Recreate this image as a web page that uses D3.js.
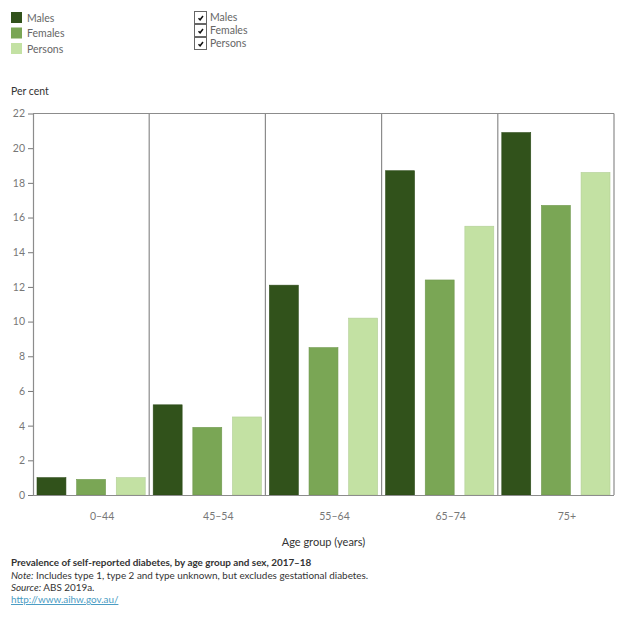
<!DOCTYPE html>
<html>
<head>
<meta charset="utf-8">
<script src="https://cdn.jsdelivr.net/npm/d3@7"></script>
<style>
  html, body { margin: 0; padding: 0; background: #fff; }
  svg { display: block; font-family: Lato, "Open Sans", sans-serif; }
</style>
</head>
<body>
<svg id="chart" width="624" height="624"></svg>
<script>
const ageGroups = ["0–44", "45–54", "55–64", "65–74", "75+"];
const seriesNames = ["Males", "Females", "Persons"];
const males   = [1.0, 5.2, 12.1, 18.7, 20.9];
const females = [0.9, 3.9, 8.5, 12.4, 16.7];
const persons = [1.0, 4.5, 10.2, 15.5, 18.6];
const seriesColors = ["#31521b", "#7aa655", "#c3e1a3"];
const yTicks = [0, 2, 4, 6, 8, 10, 12, 14, 16, 18, 20, 22];
const titleText = "Prevalence of self-reported diabetes, by age group and sex, 2017–18";
const noteText = "Includes type 1, type 2 and type unknown, but excludes gestational diabetes.";
const sourceText = "ABS 2019a.";
const urlText = "http://www.aihw.gov.au/";

const seriesValues = [males, females, persons];
const data = ageGroups.map((g, i) => ({
  group: g,
  values: seriesNames.map((s, j) => ({ series: s, value: seriesValues[j][i] }))
}));

const svg = d3.select("#chart");
const margin = { left: 33, top: 113.5, right: 614, bottom: 495 };

const x0 = d3.scaleBand().domain(ageGroups).range([margin.left, margin.right]).padding(0);
const x1 = d3.scaleBand().domain(seriesNames).range([4, x0.bandwidth() - 4]).paddingInner(0.27);
const y = d3.scaleLinear().domain([0, 22]).range([margin.bottom, margin.top]);
const color = d3.scaleOrdinal().domain(seriesNames).range(seriesColors);

// Bars
const groups = svg.append("g").selectAll("g").data(data).join("g")
  .attr("transform", d => `translate(${x0(d.group)},0)`);
groups.selectAll("rect").data(d => d.values).join("rect")
  .attr("x", d => x1(d.series))
  .attr("y", d => y(d.value))
  .attr("width", x1.bandwidth())
  .attr("height", d => y(0) - y(d.value))
  .attr("fill", d => color(d.series))
  .attr("stroke", d => d3.color(color(d.series)).darker(0.25))
  .attr("stroke-width", 0.6);

// Panel frame and separators
const frame = svg.append("g").attr("stroke", "#8c8c8c").attr("stroke-width", 1.2).attr("fill", "none");
frame.append("line").attr("x1", margin.left).attr("x2", margin.right).attr("y1", margin.top).attr("y2", margin.top);
frame.append("line").attr("x1", margin.right).attr("x2", margin.right).attr("y1", margin.top).attr("y2", margin.bottom);
frame.selectAll("line.sep").data(ageGroups.slice(1)).join("line").attr("class", "sep")
  .attr("x1", d => x0(d)).attr("x2", d => x0(d))
  .attr("y1", margin.top).attr("y2", margin.bottom);
frame.append("line").attr("x1", margin.left).attr("x2", margin.right).attr("y1", margin.bottom + 0.5).attr("y2", margin.bottom + 0.5);

// Y axis
const yAxis = svg.append("g").attr("transform", `translate(${margin.left},0)`)
  .call(d3.axisLeft(y).tickValues(yTicks).tickSize(5).tickPadding(3).tickSizeOuter(0));
yAxis.select(".domain").attr("stroke", "#8c8c8c").attr("stroke-width", 1.2);
yAxis.selectAll(".tick line").attr("stroke", "#777");
yAxis.selectAll(".tick text").attr("fill", "#777").attr("font-size", 10.5)
  .attr("font-family", "Lato, sans-serif");

// X axis labels
const xAxis = svg.append("g").attr("transform", `translate(0,${margin.bottom})`)
  .call(d3.axisBottom(x0).tickSize(0).tickPadding(18));
xAxis.select(".domain").remove();
xAxis.selectAll(".tick text").attr("fill", "#777").attr("font-size", 10.5)
  .attr("dx", 11).attr("font-family", "Lato, sans-serif");

// Axis titles
svg.append("text").attr("x", (margin.left + margin.right) / 2).attr("y", 546)
  .attr("text-anchor", "middle").attr("font-size", 11).attr("fill", "#333").text("Age group (years)");
svg.append("text").attr("x", 11).attr("y", 95)
  .attr("font-size", 10.5).attr("fill", "#333").text("Per cent");

// Colour legend
const legend = svg.append("g").attr("transform", "translate(11,12)");
const li = legend.selectAll("g").data(seriesNames).join("g")
  .attr("transform", (d, i) => `translate(0,${i * 15.5})`);
li.append("rect").attr("width", 11).attr("height", 11).attr("fill", d => color(d));
li.append("text").attr("x", 16).attr("y", 9.5).attr("font-size", 10.5).attr("fill", "#666").text(d => d);

// Checkbox legend
const cb = svg.append("g").attr("transform", "translate(194.5,11.5)");
const ci = cb.selectAll("g").data(seriesNames).join("g")
  .attr("transform", (d, i) => `translate(0,${i * 13})`);
ci.append("rect").attr("width", 12).attr("height", 12).attr("fill", "#fff")
  .attr("stroke", "#666").attr("stroke-width", 1);
ci.append("path").attr("d", "M4,6.8 L5.6,8.3 L8.5,4.5").attr("fill", "none")
  .attr("stroke", "#111").attr("stroke-width", 1.5);
ci.append("text").attr("x", 15.5).attr("y", 9.5).attr("font-size", 10.5).attr("fill", "#666").text(d => d);

// Footnotes
const foot = svg.append("g").attr("font-size", 9.9).attr("fill", "#333");
foot.append("text").attr("x", 11).attr("y", 566).attr("font-weight", "bold").text(titleText);
const note = foot.append("text").attr("x", 11).attr("y", 579);
note.append("tspan").attr("font-style", "italic").text("Note:");
note.append("tspan").text(" " + noteText);
const src = foot.append("text").attr("x", 11).attr("y", 591);
src.append("tspan").attr("font-style", "italic").text("Source:");
src.append("tspan").text(" " + sourceText);
foot.append("text").attr("x", 11).attr("y", 603).attr("fill", "#4a9cc4")
  .attr("text-decoration", "underline").text(urlText);
</script>
</body>
</html>
